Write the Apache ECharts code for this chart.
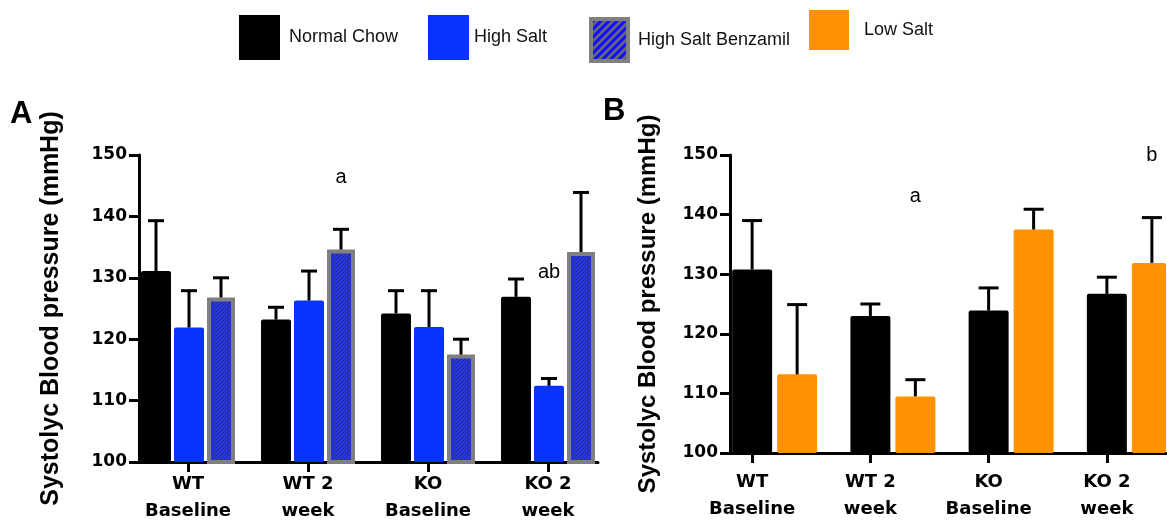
<!DOCTYPE html>
<html><head><meta charset="utf-8">
<script src="https://cdn.jsdelivr.net/npm/echarts@6/dist/echarts.min.js"></script>
<style>html,body{margin:0;padding:0;background:#fff}#c{width:1167px;height:520px}</style>
</head><body><div id="c"></div>
<script>
// ---------------- data ----------------
const categories = ['WT\nBaseline', 'WT 2\nweek', 'KO\nBaseline', 'KO 2\nweek'];
const yMin = 100, yMax = 150, yStep = 10;
const yName = 'Systolyc Blood pressure (mmHg)';

// Panel A
const normalChowA    = [131.1, 123.2, 124.2, 126.9];
const normalChowAErr = [8.2, 2.0, 3.7, 2.9];
const highSaltA      = [121.9, 126.3, 122.0, 112.4];
const highSaltAErr   = [6.0, 4.8, 5.9, 1.2];
const benzamilA      = [126.8, 134.6, 117.5, 134.2];
const benzamilAErr   = [3.2, 3.3, 2.5, 9.7];
// Panel B
const normalChowB    = [130.8, 123.0, 123.9, 126.7];
const normalChowBErr = [8.2, 2.0, 3.8, 2.8];
const lowSaltB       = [113.2, 109.5, 137.5, 131.9];
const lowSaltBErr    = [11.7, 2.8, 3.4, 7.6];

// significance letters: [text, category index, value]
const benzamilAMarks = [['a', 1, 146.3]];
const highSaltAMarks = [['ab', 3, 130.8]];
const lowSaltBMarks  = [['a', 1, 143.0], ['b', 3, 150]];

// ---------------- styles ----------------
const C_BLACK = '#000000', C_BLUE = '#0A32FF', C_ORANGE = '#FF9200', C_GRAY = '#808080';
function hatch(size, bg, fg, lw) {
  const c = document.createElement('canvas'); c.width = c.height = size;
  const g = c.getContext('2d');
  g.fillStyle = bg; g.fillRect(0, 0, size, size);
  g.strokeStyle = fg; g.lineWidth = lw; g.beginPath();
  g.moveTo(-1, size + 1); g.lineTo(size + 1, -1);
  g.moveTo(-size / 2 - 1, size / 2 + 1); g.lineTo(size / 2 + 1, -size / 2 - 1);
  g.moveTo(size / 2 - 1, size * 1.5 + 1); g.lineTo(size * 1.5 + 1, size / 2 - 1);
  g.stroke();
  return c;
}
const barHatch = { image: hatch(4, '#2438ff', '#2d2d78', 1.2), repeat: 'repeat' };
const legHatch = { image: hatch(8, '#1010ff', '#6a6a6a', 2.6), repeat: 'repeat' };

const widthsA = [30, 30, 28], gapA = 0.1;
const widthsB = [40, 40, 40], gapB = 0.125;
function centers(widths, g) {
  let sum = 0; widths.forEach(w => sum += w * (1 + g));
  sum -= widths[widths.length - 1] * g;
  let o = -sum / 2;
  return widths.map(w => { const c = o + w / 2; o += w * (1 + g); return c; });
}
const offA = centers(widthsA, gapA), offB = centers(widthsB, gapB);

const tickFont = { fontFamily: 'DejaVu Sans', fontWeight: 'bold', fontSize: 17, color: '#000' };
const catFont = { fontFamily: 'DejaVu Sans', fontWeight: 'bold', fontSize: 18, lineHeight: 27, color: '#000' };
const legFont = { fontFamily: 'Liberation Sans', fontSize: 18, color: '#111' };

function errSeries(name, xi, yi, means, errs, offset, cap) {
  return {
    type: 'custom', name: name + ' err', xAxisIndex: xi, yAxisIndex: yi, z: 5, silent: true,
    encode: { x: 0, y: 1 },
    data: means.map((m, i) => [i, m, errs[i]]),
    renderItem: function (params, api) {
      const b = api.coord([api.value(0), api.value(1)]);
      const t = api.coord([api.value(0), api.value(1) + api.value(2)]);
      const x = b[0] + offset;
      const st = { stroke: '#000', lineWidth: 3 };
      return { type: 'group', children: [
        { type: 'line', shape: { x1: x, y1: b[1], x2: x, y2: t[1] }, style: st },
        { type: 'line', shape: { x1: x - cap / 2, y1: t[1], x2: x + cap / 2, y2: t[1] }, style: st }
      ] };
    }
  };
}
function marks(list) {
  return {
    symbol: 'rect', symbolSize: 1, itemStyle: { color: 'rgba(0,0,0,0)' },
    label: { show: true, position: 'inside', fontFamily: 'Liberation Sans', fontSize: 20, color: '#000',
      formatter: p => p.name },
    data: list.map(d => ({ name: d[0], coord: [d[1], d[2]] }))
  };
}
function yAxisCfg(grid, offset, nameGap, nameSize) {
  return {
    type: 'value', gridIndex: grid, min: yMin, max: yMax, interval: yStep, offset: offset,
    axisLine: { show: true, lineStyle: { color: '#000', width: 3 } },
    axisTick: { show: true, length: 10, lineStyle: { color: '#000', width: 3 } },
    axisLabel: Object.assign({ margin: 12 }, tickFont),
    splitLine: { show: false },
    name: yName, nameLocation: 'middle', nameGap: nameGap,
    nameTextStyle: { fontFamily: 'Liberation Sans', fontWeight: 700, fontSize: nameSize, color: '#000' }
  };
}
function xAxisCfg(grid, margin) {
  return {
    type: 'category', gridIndex: grid, data: categories,
    axisLine: { show: false },
    axisTick: { show: true, alignWithLabel: true, length: 10, lineStyle: { color: '#000', width: 3 } },
    axisLabel: Object.assign({ interval: 0, margin: margin }, catFont)
  };
}
function baseX(grid) {
  return { type: 'value', gridIndex: grid, min: 0, max: 1,
    axisLine: { show: true, lineStyle: { color: '#000', width: 3 } },
    axisTick: { show: false }, axisLabel: { show: false }, splitLine: { show: false } };
}
function baseY(grid) {
  return { type: 'value', gridIndex: grid, min: 0, max: 1, show: false };
}
function legendItem(name, left, top, w, h, pad, extra) {
  return Object.assign({
    data: [name], left: left, top: top, padding: 0, icon: 'rect', itemWidth: w, itemHeight: h,
    selectedMode: false, textStyle: Object.assign({ padding: pad }, legFont)
  }, extra || {});
}

const option = {
  animation: false,
  backgroundColor: '#fff',
  grid: [
    { left: 128, top: 155, width: 480, height: 307, outerBoundsMode: 'none', containLabel: false },
    { left: 693, top: 155, width: 473, height: 298, outerBoundsMode: 'none', containLabel: false },
    { left: 138, top: 155, width: 460, height: 307, outerBoundsMode: 'none', containLabel: false },
    { left: 729, top: 155, width: 440, height: 298, outerBoundsMode: 'none', containLabel: false }
  ],
  xAxis: [xAxisCfg(0, 9), xAxisCfg(1, 16), baseX(2), baseX(3)],
  yAxis: [yAxisCfg(0, -11, 75, 25), yAxisCfg(1, -37, 70, 24), baseY(2), baseY(3)],
  legend: [
    legendItem('Normal Chow', 239, 15, 41, 45, [21, 0, 0, 4]),
    legendItem('High Salt', 428, 15, 41, 45, [12, 0, 0, 0]),
    legendItem('High Salt Benzamil', 589, 17, 37, 42, [8, 0, 0, 5],
      { itemStyle: { color: legHatch, borderColor: C_GRAY, borderWidth: 4 } }),
    legendItem('Low Salt', 809, 10, 40, 40, [19, 0, 0, 10])
  ],
  graphic: [
    { type: 'text', left: 10, top: 99, style: { text: 'A', font: 'bold 31px "Liberation Sans"', fill: '#000' } },
    { type: 'text', left: 603, top: 96, style: { text: 'B', font: 'bold 31px "Liberation Sans"', fill: '#000' } }
  ],
  series: [
    { type: 'bar', name: 'Normal Chow', xAxisIndex: 0, yAxisIndex: 0, data: normalChowA,
      barWidth: widthsA[0], barGap: gapA * 100 + '%', itemStyle: { color: C_BLACK, borderRadius: 2 } },
    { type: 'bar', name: 'High Salt', xAxisIndex: 0, yAxisIndex: 0, data: highSaltA,
      barWidth: widthsA[1], barGap: gapA * 100 + '%', itemStyle: { color: C_BLUE, borderRadius: 2 },
      markPoint: marks(highSaltAMarks) },
    { type: 'bar', name: 'High Salt Benzamil', xAxisIndex: 0, yAxisIndex: 0, data: benzamilA,
      barWidth: widthsA[2], barGap: gapA * 100 + '%',
      itemStyle: { color: barHatch, borderColor: C_GRAY, borderWidth: 4 },
      markPoint: marks(benzamilAMarks) },
    { type: 'bar', name: '', xAxisIndex: 1, yAxisIndex: 1, data: [null, null, null, null],
      barWidth: widthsB[0], barGap: gapB * 100 + '%', itemStyle: { color: 'rgba(0,0,0,0)' } },
    { type: 'bar', name: 'Normal Chow', xAxisIndex: 1, yAxisIndex: 1, data: normalChowB,
      barWidth: widthsB[1], barGap: gapB * 100 + '%', itemStyle: { color: C_BLACK, borderRadius: 2 } },
    { type: 'bar', name: 'Low Salt', xAxisIndex: 1, yAxisIndex: 1, data: lowSaltB,
      barWidth: widthsB[2], barGap: gapB * 100 + '%', itemStyle: { color: C_ORANGE, borderRadius: 2 },
      markPoint: marks(lowSaltBMarks) },
    errSeries('Normal Chow A', 0, 0, normalChowA, normalChowAErr, offA[0], 16),
    errSeries('High Salt A', 0, 0, highSaltA, highSaltAErr, offA[1], 16),
    errSeries('Benzamil A', 0, 0, benzamilA, benzamilAErr, offA[2], 16),
    errSeries('Normal Chow B', 1, 1, normalChowB, normalChowBErr, offB[1], 20),
    errSeries('Low Salt B', 1, 1, lowSaltB, lowSaltBErr, offB[2], 20)
  ]
};
const chart = echarts.init(document.getElementById('c'), null, { renderer: 'canvas' });
chart.setOption(option);
</script></body></html>
